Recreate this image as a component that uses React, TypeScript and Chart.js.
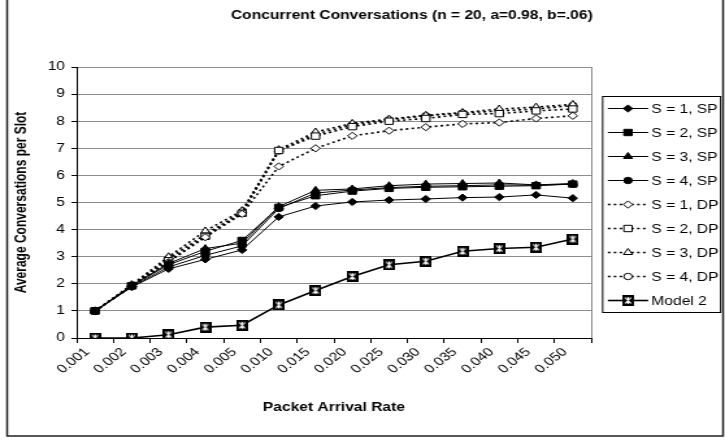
import { useEffect, useRef } from 'react';
import { Chart, registerables } from 'chart.js';
import { drawPoint } from 'chart.js/helpers';

Chart.register(...registerables);

const FONT = "'Liberation Sans', Arial, sans-serif";

// Packet arrival rates (category axis)
const rates = ['0.001', '0.002', '0.003', '0.004', '0.005', '0.010', '0.015', '0.020', '0.025', '0.030', '0.035', '0.040', '0.045', '0.050'];

// Single-path results
const sp1 = [1.0, 1.88, 2.55, 2.9, 3.25, 4.47, 4.87, 5.02, 5.09, 5.13, 5.18, 5.2, 5.28, 5.16];
const sp2 = [1.0, 1.93, 2.7, 3.2, 3.6, 4.82, 5.25, 5.42, 5.52, 5.56, 5.58, 5.6, 5.62, 5.68];
const sp3 = [1.0, 1.95, 2.75, 3.3, 3.5, 4.85, 5.45, 5.5, 5.62, 5.68, 5.7, 5.72, 5.65, 5.7];
const sp4 = [0.98, 1.9, 2.62, 3.05, 3.4, 4.78, 5.35, 5.46, 5.55, 5.6, 5.62, 5.65, 5.64, 5.68];

// Dual-path results
const dp1 = [1.0, 1.9, 2.8, 3.72, 4.58, 6.33, 7.0, 7.46, 7.65, 7.78, 7.9, 7.95, 8.1, 8.2];
const dp2 = [1.0, 1.93, 2.85, 3.75, 4.6, 6.92, 7.45, 7.8, 8.0, 8.1, 8.25, 8.28, 8.38, 8.45];
const dp3 = [1.0, 1.97, 3.0, 3.95, 4.7, 6.95, 7.6, 7.92, 8.08, 8.22, 8.32, 8.45, 8.52, 8.62];
const dp4 = [0.98, 1.95, 2.93, 3.82, 4.65, 6.9, 7.52, 7.87, 8.05, 8.2, 8.3, 8.38, 8.45, 8.58];

// Analytical model
const model2 = [0, 0, 0.12, 0.4, 0.47, 1.22, 1.75, 2.27, 2.7, 2.83, 3.2, 3.3, 3.35, 3.65];

const TITLE = 'Concurrent Conversations (n = 20, a=0.98, b=.06)';
const X_TITLE = 'Packet Arrival Rate';
const Y_TITLE = 'Average Conversations per Slot';

// The chart is laid out on a narrower canvas and stretched horizontally on screen.
const OUT_W = 725;
const OUT_H = 442;
const SX = 1.3;
const IN_W = Math.round(OUT_W / SX);

function makeModelMarker(): HTMLCanvasElement {
  const c = document.createElement('canvas');
  c.width = 9;
  c.height = 11;
  const g = c.getContext('2d')!;
  g.fillStyle = '#000';
  g.fillRect(0, 0, 9, 11);
  g.strokeStyle = '#fff';
  g.lineWidth = 1.1;
  g.beginPath();
  g.moveTo(2.2, 2.5);
  g.lineTo(6.8, 8.5);
  g.moveTo(6.8, 2.5);
  g.lineTo(2.2, 8.5);
  g.moveTo(4.5, 2);
  g.lineTo(4.5, 9);
  g.stroke();
  return c;
}

const DOT = [2, 2.5];

// Frame, title, plot border and the boxed legend.
const framePlugin = {
  id: 'frame',
  afterDraw(chart: any) {
    const { ctx, chartArea } = chart;
    ctx.save();

    ctx.strokeStyle = '#8c8c8c';
    ctx.lineWidth = 1;
    ctx.beginPath();
    ctx.moveTo(Math.round(chartArea.right) + 0.5, chartArea.top);
    ctx.lineTo(Math.round(chartArea.right) + 0.5, chartArea.bottom);
    ctx.stroke();

    ctx.strokeStyle = '#222';
    ctx.lineWidth = 1.5;
    ctx.strokeRect(5.5, -3, IN_W - 7, 439);

    ctx.fillStyle = '#000';
    ctx.font = `bold 12px ${FONT}`;
    ctx.textAlign = 'center';
    ctx.textBaseline = 'middle';
    ctx.fillText(TITLE, 412 / SX, 16);

    const lx = 603 / SX;
    const ly = 96;
    const lw = (721 - 603) / SX;
    const step = 24;
    const sets = chart.data.datasets;
    const lh = (sets.length - 1) * step + 24;
    ctx.strokeStyle = '#000';
    ctx.lineWidth = 1;
    ctx.setLineDash([]);
    ctx.strokeRect(lx, ly + 0.5, lw, lh);

    ctx.font = `12px ${FONT}`;
    ctx.textAlign = 'left';
    sets.forEach((ds: any, i: number) => {
      const y = ly + 12.5 + i * step;
      ctx.save();
      ctx.strokeStyle = '#000';
      ctx.lineWidth = ds.borderWidth;
      ctx.setLineDash(ds.borderDash || []);
      ctx.beginPath();
      ctx.moveTo(lx + 4, y);
      ctx.lineTo(lx + 35, y);
      ctx.stroke();
      ctx.restore();
      ctx.save();
      ctx.fillStyle = ds.pointBackgroundColor;
      ctx.strokeStyle = '#000';
      ctx.lineWidth = 1;
      drawPoint(ctx, { pointStyle: ds.pointStyle, radius: ds.pointRadius, borderWidth: 1, rotation: 0 }, lx + 19.5, y);
      ctx.restore();
      ctx.fillStyle = '#000';
      ctx.textBaseline = 'middle';
      ctx.fillText(ds.label, lx + 37.5, y + 1);
    });
    ctx.restore();
  },
};

function series(label: string, data: number[], style: any, radius: number, fill: string, dash: number[], width: number) {
  return {
    label,
    data,
    borderColor: '#000',
    borderWidth: width,
    borderDash: dash,
    pointStyle: style,
    pointRadius: radius,
    pointHoverRadius: radius,
    pointBackgroundColor: fill,
    pointBorderColor: '#000',
    pointBorderWidth: 1,
    tension: 0,
    fill: false,
  };
}

export default function App() {
  const ref = useRef<HTMLCanvasElement | null>(null);

  useEffect(() => {
    if (!ref.current) return;
    const marker = makeModelMarker();
    const chart = new Chart(ref.current, {
      type: 'line',
      data: {
        labels: rates,
        datasets: [
          series('S = 1, SP', sp1, 'rectRot', 3.6, '#000', [], 1),
          series('S = 2, SP', sp2, 'rect', 4.5, '#000', [], 1),
          series('S = 3, SP', sp3, 'triangle', 4, '#000', [], 1),
          series('S = 4, SP', sp4, 'circle', 3.2, '#000', [], 1),
          series('S = 1, DP', dp1, 'rectRot', 3.6, '#fff', DOT, 1.6),
          series('S = 2, DP', dp2, 'rect', 4.5, '#fff', DOT, 1.6),
          series('S = 3, DP', dp3, 'triangle', 4, '#fff', DOT, 1.6),
          series('S = 4, DP', dp4, 'circle', 3.2, '#fff', DOT, 1.6),
          series('Model 2', model2, marker, 5, '#000', [], 1.6),
        ] as any,
      },
      options: {
        animation: false,
        responsive: false,
        devicePixelRatio: 1,
        layout: { padding: { left: 5, top: 67, right: IN_W - 455, bottom: 27 } },
        plugins: {
          legend: { display: false },
          title: { display: false },
          tooltip: { enabled: false },
        },
        scales: {
          x: {
            type: 'category',
            offset: true,
            afterFit: (s: any) => {
              s.height = 77;
            },
            grid: {
              offset: true,
              drawOnChartArea: false,
              drawTicks: true,
              tickLength: 5,
              tickColor: '#000',
            },
            border: { color: '#000', width: 1 },
            ticks: {
              autoSkip: false,
              minRotation: 45,
              maxRotation: 45,
              labelOffset: -6,
              padding: 2,
              color: '#000',
              font: { family: FONT, size: 12 },
            },
            title: {
              display: true,
              text: X_TITLE,
              color: '#000',
              font: { family: FONT, size: 12, weight: 'bold' },
              padding: { top: 4, bottom: 0 },
            },
          },
          y: {
            min: 0,
            max: 10,
            afterFit: (s: any) => {
              s.width = 54;
            },
            grid: {
              color: '#8c8c8c',
              lineWidth: 1,
              drawTicks: true,
              tickLength: 4,
              tickColor: '#000',
            },
            border: { color: '#000', width: 1 },
            ticks: {
              stepSize: 1,
              padding: 5,
              color: '#000',
              font: { family: FONT, size: 12 },
            },
            title: {
              display: true,
              text: Y_TITLE,
              color: '#000',
              font: { family: FONT, size: 12, weight: 'bold' },
              padding: { top: 4, bottom: 4 },
            },
          },
        },
      },
      plugins: [framePlugin],
    });
    return () => chart.destroy();
  }, []);

  return (
    <div style={{ position: 'fixed', left: 0, top: 0, width: OUT_W, height: OUT_H, background: '#fff' }}>
      <canvas
        ref={ref}
        width={IN_W}
        height={OUT_H}
        style={{ display: 'block', width: OUT_W + 'px', height: OUT_H + 'px' }}
      />
    </div>
  );
}
